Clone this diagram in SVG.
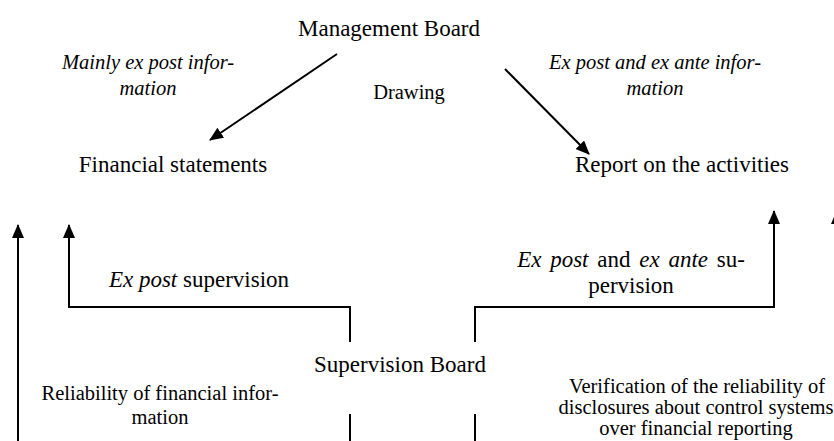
<svg xmlns="http://www.w3.org/2000/svg" width="834" height="441" viewBox="0 0 834 441">
<defs>
<marker id="ah" markerWidth="14" markerHeight="12" refX="13" refY="6" orient="auto" markerUnits="userSpaceOnUse">
<path d="M0,0 L14,6 L0,12 Z" fill="#000"/>
</marker>
<style>
.t{font-family:"Liberation Serif","Times New Roman",serif;fill:#000;}
.big{font-size:23px;}
.sm{font-size:20.5px;}
.it{font-style:italic;}
.ln{stroke:#000;stroke-width:2;fill:none;}
</style>
</defs>
<rect width="834" height="441" fill="#fff"/>
<g id="management-board"><text class="t big" x="389" y="36" text-anchor="middle">Management Board</text></g>
<g id="drawing"><text class="t sm" x="409" y="99" text-anchor="middle">Drawing</text></g>
<g id="financial-statements"><text class="t big" x="173" y="172" text-anchor="middle">Financial statements</text></g>
<g id="report-activities"><text class="t big" x="682" y="172" text-anchor="middle">Report on the activities</text></g>
<g id="supervision-board"><text class="t big" x="400" y="372" text-anchor="middle">Supervision Board</text></g>
<g id="label-mainly"><text class="t sm it" text-anchor="middle"><tspan x="148" y="69">Mainly ex post infor-</tspan><tspan x="148" y="95">mation</tspan></text></g>
<g id="label-expost-exante-info"><text class="t sm it" text-anchor="middle"><tspan x="655" y="69">Ex post and ex ante infor-</tspan><tspan x="655" y="95">mation</tspan></text></g>
<g id="label-expost-supervision"><text class="t big" x="199" y="287" text-anchor="middle"><tspan font-style="italic">Ex post</tspan> supervision</text></g>
<g id="label-expost-exante-supervision"><text class="t big" text-anchor="middle"><tspan x="631" y="267" word-spacing="3"><tspan font-style="italic">Ex post</tspan> and <tspan font-style="italic">ex ante</tspan> su-</tspan><tspan x="631" y="293">pervision</tspan></text></g>
<g id="label-reliability"><text class="t sm" text-anchor="middle"><tspan x="160" y="400">Reliability of financial infor-</tspan><tspan x="160" y="424">mation</tspan></text></g>
<g id="label-verification"><text class="t sm" text-anchor="middle"><tspan x="697" y="393">Verification of the reliability of</tspan><tspan x="696" y="414">disclosures about control systems</tspan><tspan x="696" y="435">over financial reporting</tspan></text></g>
<g id="connectors">
<line class="ln" x1="337" y1="54" x2="210" y2="140" marker-end="url(#ah)"/>
<line class="ln" x1="505" y1="69" x2="589" y2="154" marker-end="url(#ah)"/>
<polyline class="ln" points="350,342 350,307 69,307 69,225" marker-end="url(#ah)"/>
<polyline class="ln" points="475,342 475,307 774,307 774,211" marker-end="url(#ah)"/>
<line class="ln" x1="18" y1="441" x2="18" y2="225" marker-end="url(#ah)"/>
<line class="ln" x1="350" y1="414" x2="350" y2="441"/>
<line class="ln" x1="475" y1="414" x2="475" y2="441"/>
<line class="ln" x1="837" y1="441" x2="837" y2="211" marker-end="url(#ah)"/>
</g>
</svg>
